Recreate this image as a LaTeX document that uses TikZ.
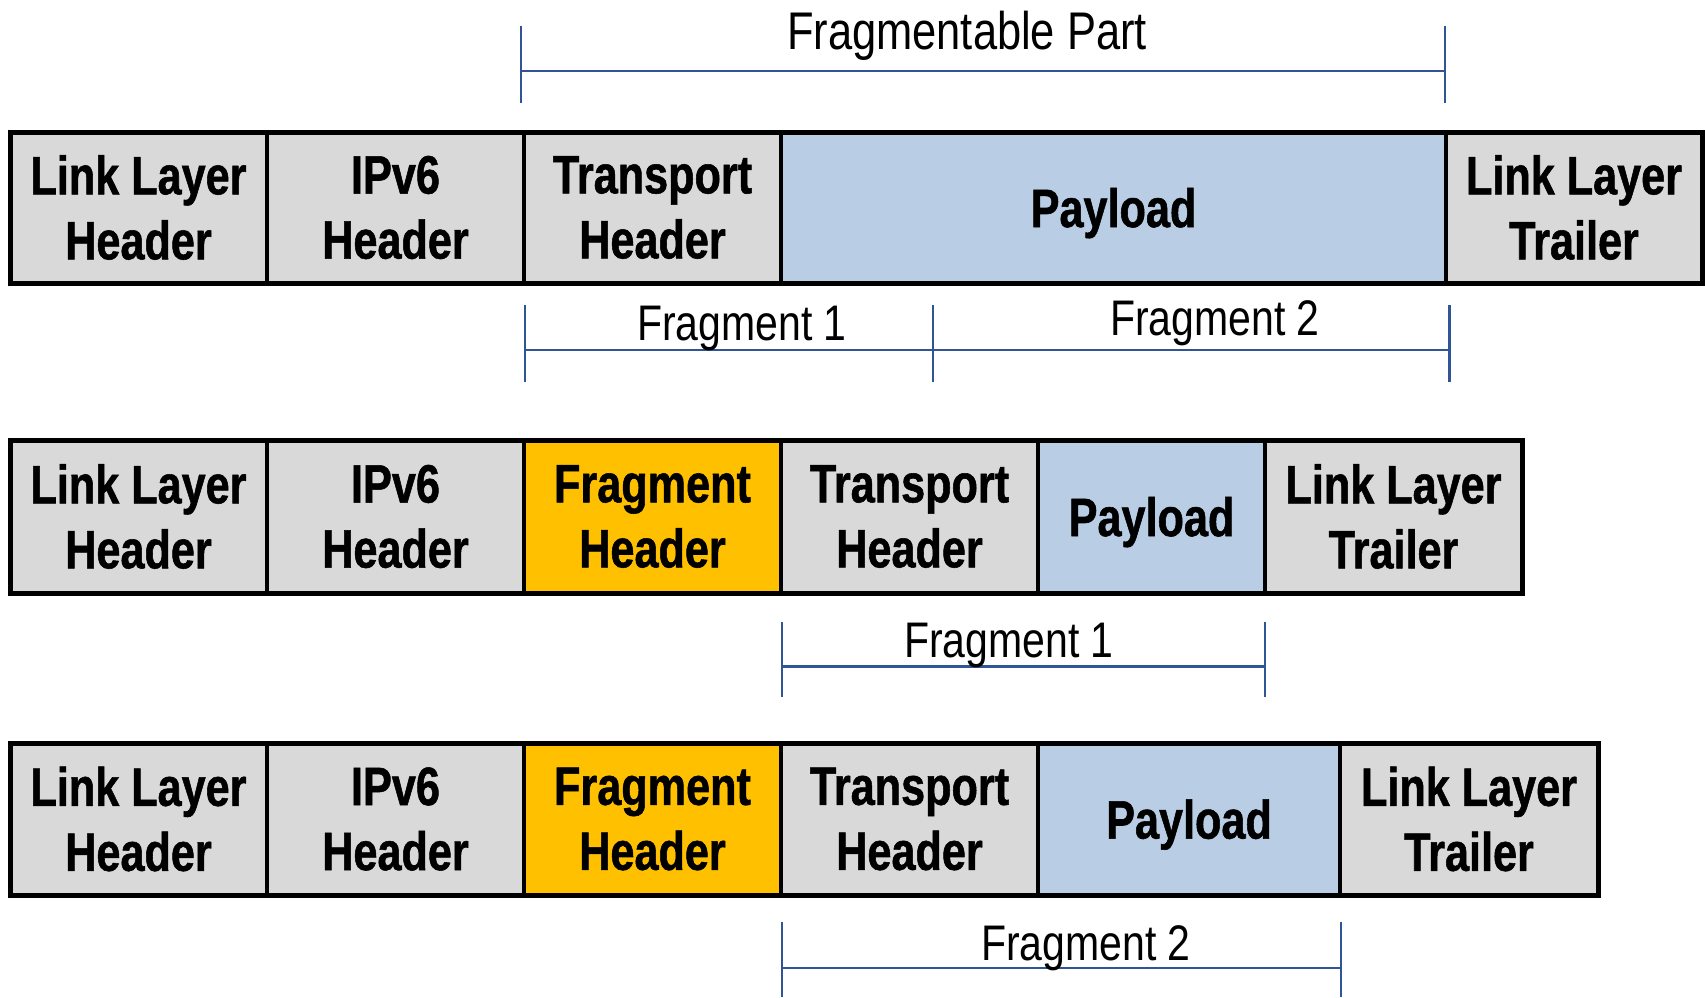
\documentclass[tikz,border=0pt]{standalone}
\usepackage{fontspec}
\setmainfont{Liberation Sans}[FakeStretch=0.8, BoldFeatures={FakeBold=1}]
\newfontfamily\thinfont{Liberation Sans}[FakeStretch=0.82]
\definecolor{cellgray}{HTML}{D9D9D9}
\definecolor{cellblue}{HTML}{B9CDE5}
\definecolor{cellorange}{HTML}{FFC000}
\definecolor{spanblue}{RGB}{47,85,151}
\tikzset{
  cell/.style={draw=black, line width=3.5pt, outer sep=0pt, inner sep=0pt,
    anchor=north west, align=center, text=black,
    font=\bfseries\fontsize{54}{65}\selectfont},
  plain/.style={cell, fill=cellgray},
  pay/.style={cell, fill=cellblue, text depth=0pt},
  frag/.style={cell, fill=cellorange},
  rowframe/.style={draw=black, line width=5pt},
  span/.style={draw=spanblue, line width=2.4pt},
  spanlabel/.style={anchor=base, inner sep=0pt, text=black},
}
\begin{document}
\begin{tikzpicture}[x=1pt, y=-1pt]
\useasboundingbox (0,0) rectangle (1705,997);

% ---- original packet ----
\node[plain, minimum width=257, minimum height=151] (ll1) at (10,132) {Link Layer\\Header};
\node[plain, minimum width=257, minimum height=151] (ip1) at (267,132) {IPv6\\Header};
\node[plain, minimum width=257, minimum height=151] (tr1) at (524,132) {Transport\\Header};
\node[pay,   minimum width=665, minimum height=151] (pl1) at (781,132) {Payload};
\node[plain, minimum width=256, minimum height=151] (lt1) at (1446,132) {Link Layer\\Trailer};
\draw[rowframe] (ll1.north west) rectangle (lt1.south east);

% ---- first fragment ----
\node[plain, minimum width=257, minimum height=153] (ll2) at (10,440) {Link Layer\\Header};
\node[plain, minimum width=257, minimum height=153] (ip2) at (267,440) {IPv6\\Header};
\node[frag,  minimum width=257, minimum height=153] (fh2) at (524,440) {Fragment\\Header};
\node[plain, minimum width=257, minimum height=153] (tr2) at (781,440) {Transport\\Header};
\node[pay,   minimum width=227, minimum height=153] (pl2) at (1038,440) {Payload};
\node[plain, minimum width=257, minimum height=153] (lt2) at (1265,440) {Link Layer\\Trailer};
\draw[rowframe] (ll2.north west) rectangle (lt2.south east);

% ---- second fragment ----
\node[plain, minimum width=257, minimum height=152] (ll3) at (10,743) {Link Layer\\Header};
\node[plain, minimum width=257, minimum height=152] (ip3) at (267,743) {IPv6\\Header};
\node[frag,  minimum width=257, minimum height=152] (fh3) at (524,743) {Fragment\\Header};
\node[plain, minimum width=257, minimum height=152] (tr3) at (781,743) {Transport\\Header};
\node[pay,   minimum width=302, minimum height=152] (pl3) at (1038,743) {Payload};
\node[plain, minimum width=258, minimum height=152] (lt3) at (1340,743) {Link Layer\\Trailer};
\draw[rowframe] (ll3.north west) rectangle (lt3.south east);

% ---- span markers ----
% fragmentable part
\coordinate (a0t) at (521,26);  \coordinate (a0b) at (521,103);
\coordinate (b0t) at (1445,26); \coordinate (b0b) at (1445,103);
\coordinate (a0m) at (521,71);  \coordinate (b0m) at (1445,71);
\draw[span] (a0t) -- (a0b);
\draw[span] (b0t) -- (b0b);
\draw[span] (a0m) -- (b0m);
\node[spanlabel, font=\thinfont\fontsize{53}{60}\selectfont] (lab0) at (967,49) {Fragmentable Part};

% fragment 1 / fragment 2 split
\coordinate (a1t) at (525,305);    \coordinate (a1b) at (525,382);
\coordinate (c1t) at (933,305);    \coordinate (c1b) at (933,382);
\coordinate (b1t) at (1449.5,305); \coordinate (b1b) at (1449.5,382);
\coordinate (a1m) at (525,350);    \coordinate (b1m) at (1449.5,350);
\draw[span] (a1t) -- (a1b);
\draw[span] (c1t) -- (c1b);
\draw[span] (b1t) -- (b1b);
\draw[span] (a1m) -- (b1m);
\node[spanlabel, font=\thinfont\fontsize{50}{60}\selectfont] (lab1a) at (742,340) {Fragment 1};
\node[spanlabel, font=\thinfont\fontsize{50}{60}\selectfont] (lab1b) at (1215,335) {Fragment 2};

% fragment 1 data
\coordinate (a2t) at (782,622);  \coordinate (a2b) at (782,697);
\coordinate (b2t) at (1265,622); \coordinate (b2b) at (1265,697);
\coordinate (a2m) at (782,666.5); \coordinate (b2m) at (1265,666.5);
\draw[span] (a2t) -- (a2b);
\draw[span] (b2t) -- (b2b);
\draw[span] (a2m) -- (b2m);
\node[spanlabel, font=\thinfont\fontsize{50}{60}\selectfont] (lab2) at (1009,657) {Fragment 1};

% fragment 2 data
\coordinate (a3t) at (782,922);  \coordinate (a3b) at (782,997);
\coordinate (b3t) at (1341,922); \coordinate (b3b) at (1341,997);
\coordinate (a3m) at (782,968);  \coordinate (b3m) at (1341,968);
\draw[span] (a3t) -- (a3b);
\draw[span] (b3t) -- (b3b);
\draw[span] (a3m) -- (b3m);
\node[spanlabel, font=\thinfont\fontsize{50}{60}\selectfont] (lab3) at (1086,960) {Fragment 2};
\end{tikzpicture}
\end{document}
